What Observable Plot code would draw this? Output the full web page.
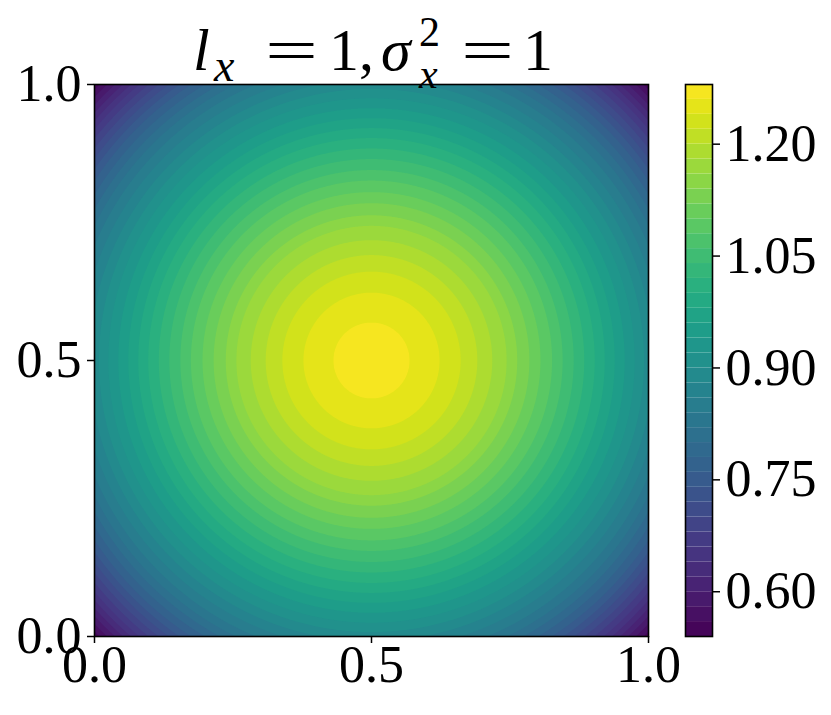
<!DOCTYPE html>
<html>
<head>
<meta charset="utf-8">
<script src="https://cdn.jsdelivr.net/npm/d3@7"></script>
<script src="https://cdn.jsdelivr.net/npm/@observablehq/plot@0.6"></script>
<style>
  html, body { margin: 0; padding: 0; background: white; }
  #wrap { position: relative; width: 831px; height: 715px; overflow: hidden; }
  #main, #cbar, #title { position: absolute; top: 0; }
  #main { left: 0; }
  #cbar { left: 660px; }
  #title { left: 0; pointer-events: none; }
</style>
</head>
<body>
<div id="wrap">
  <div id="main"></div>
  <div id="cbar"></div>
  <svg id="title" width="831" height="110" font-family="Liberation Serif" fill="black" font-size="60">
    <text x="193" y="70" font-style="italic">l</text>
    <text x="214" y="81" font-style="italic" font-size="46">x</text>
    <text x="265" y="70" textLength="53" lengthAdjust="spacingAndGlyphs">=</text>
    <text x="329" y="70">1,</text>
    <text x="381" y="70" font-style="italic">σ</text>
    <text x="419" y="46" font-size="42">2</text>
    <text x="419" y="88" font-style="italic" font-size="42">x</text>
    <text x="461" y="70" textLength="53" lengthAdjust="spacingAndGlyphs">=</text>
    <text x="523" y="70">1</text>
  </svg>
</div>
<script>
// Radial profile: distance from centre (0.5, 0.5) -> value
const profileR = [0, 0.069, 0.123, 0.161, 0.191, 0.218, 0.244, 0.263, 0.285, 0.305, 0.326, 0.345, 0.365, 0.384, 0.403, 0.421, 0.439, 0.457, 0.475, 0.492, 0.55, 0.60, 0.65, 0.708];
const profileV = [1.270, 1.26, 1.24, 1.22, 1.20, 1.18, 1.16, 1.14, 1.12, 1.10, 1.08, 1.06, 1.04, 1.02, 1.00, 0.98, 0.96, 0.94, 0.92, 0.90, 0.83, 0.755, 0.665, 0.545];
// contour levels (band lower bounds), step 0.02 from 0.54 to 1.26
const levels = [0.54,0.56,0.58,0.60,0.62,0.64,0.66,0.68,0.70,0.72,0.74,0.76,0.78,0.80,0.82,0.84,0.86,0.88,0.90,0.92,0.94,0.96,0.98,1.00,1.02,1.04,1.06,1.08,1.10,1.12,1.14,1.16,1.18,1.20,1.22,1.24,1.26];
const levelStep = 0.02;
const axisTicks = [0, 0.5, 1];
const cbarTicks = [0.60, 0.75, 0.90, 1.05, 1.20];

const profile = d3.scaleLinear().domain(profileR).range(profileV).clamp(true);
// band [t, t+step] is coloured by its midpoint on the [0.54, 1.28] range
const colorOpts = {type: "linear", scheme: "viridis", domain: [0.53, 1.27]};

const style = {fontFamily: "Liberation Serif", fontSize: "52px", color: "black", background: "transparent", overflow: "visible"};

const main = Plot.plot({
  width: 680, height: 715,
  marginLeft: 94, marginRight: 32, marginTop: 84, marginBottom: 79,
  style,
  x: {domain: [0, 1]},
  y: {domain: [0, 1]},
  color: colorOpts,
  marks: [
    Plot.contour({
      value: (x, y) => profile(Math.hypot(x - 0.5, y - 0.5)),
      x1: 0, y1: 0, x2: 1, y2: 1,
      fill: "value", stroke: "none", thresholds: levels, pixelSize: 1
    }),
    Plot.frame({stroke: "black", strokeWidth: 1.6}),
    Plot.axisX({ticks: axisTicks, tickFormat: ".1f", tickSize: 7, tickPadding: 2, strokeWidth: 1.5, label: null}),
    Plot.axisY({ticks: axisTicks, tickFormat: ".1f", tickSize: 7, tickPadding: 6, strokeWidth: 1.5, label: null})
  ]
});
document.getElementById("main").appendChild(main);

const bands = levels.map(t => ({lo: t, hi: t + levelStep}));
const cbar = Plot.plot({
  width: 171, height: 715,
  marginLeft: 25, marginRight: 119, marginTop: 84, marginBottom: 79,
  style,
  x: {domain: [0, 1], axis: null},
  y: {domain: [levels[0], levels[levels.length-1] + levelStep]},
  color: colorOpts,
  marks: [
    Plot.rect(bands, {x1: 0, x2: 1, y1: "lo", y2: "hi", fill: "lo", inset: 0}),
    Plot.frame({stroke: "black", strokeWidth: 1.6}),
    Plot.axisY({anchor: "right", ticks: cbarTicks, tickFormat: ".2f", tickSize: 7, tickPadding: 6, strokeWidth: 1.5, label: null})
  ]
});
document.getElementById("cbar").appendChild(cbar);
</script>
</body>
</html>
